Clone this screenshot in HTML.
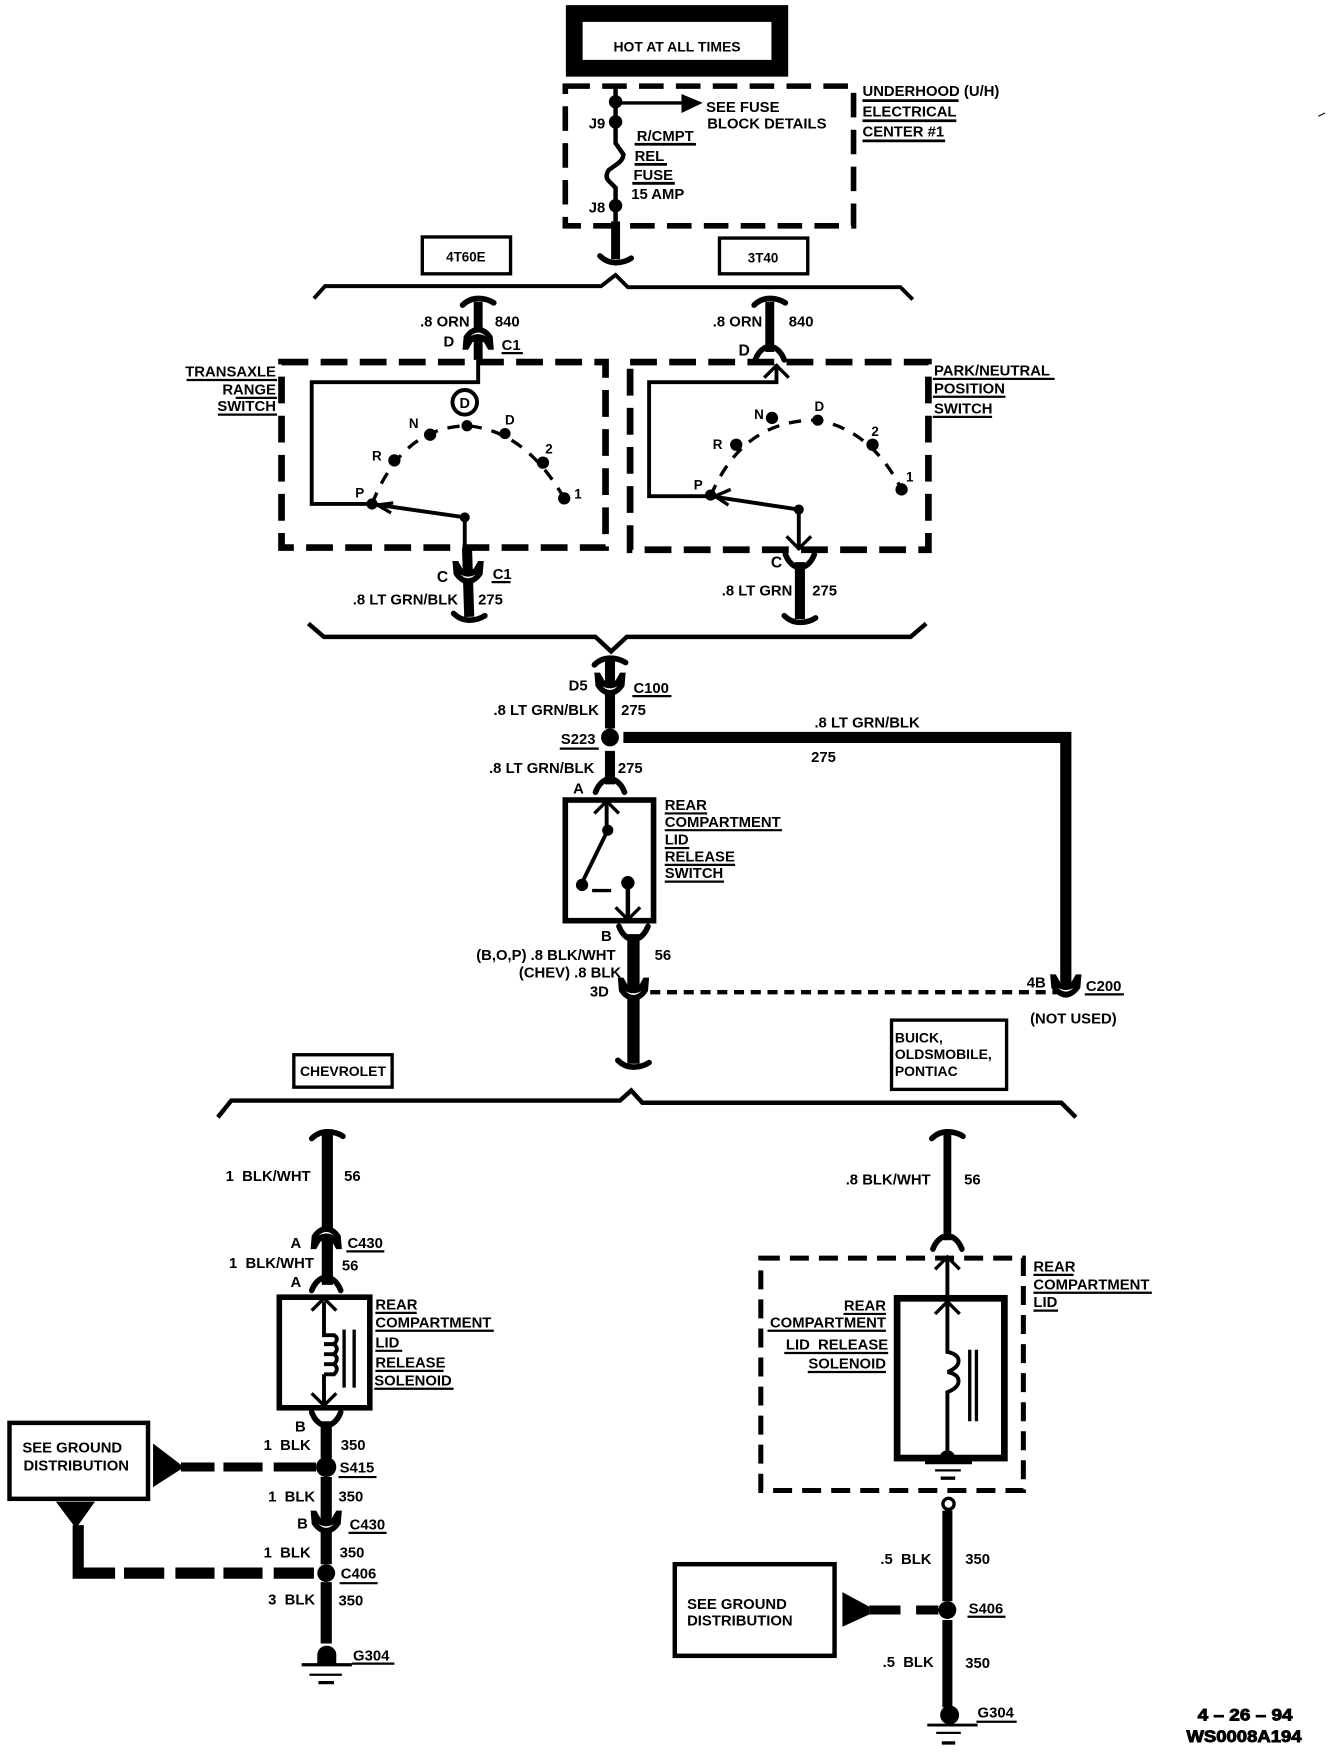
<!DOCTYPE html>
<html><head><meta charset="utf-8"><style>
html,body{margin:0;padding:0;background:#fff}
svg{display:block}
text{font-family:"Liberation Sans",sans-serif;font-weight:bold;font-size:13.3px;fill:#000}
.m{text-anchor:middle}.e{text-anchor:end}
</style></head><body>
<svg width="1344" height="1752" viewBox="0 0 1203 1568" xmlns="http://www.w3.org/2000/svg">
<defs>
<path id="ft" d="M-14,3 Q-8,-3 0,-3 Q8,-3 14,1" fill="none" stroke="#000" stroke-width="5" stroke-linecap="round"/>
<path id="fb" d="M-14,-3 Q-8,3 0,3 Q8,3 14,-1" fill="none" stroke="#000" stroke-width="5" stroke-linecap="round"/>
<path id="fy" d="M-13,6 Q-10,-2 -4,-5 H4 Q10,-2 13,6" fill="none" stroke="#000" stroke-width="5" stroke-linecap="round"/>
<path id="fu" d="M-13,-6 Q-10,2 -4,5 H4 Q10,2 13,-6" fill="none" stroke="#000" stroke-width="5" stroke-linecap="round"/>
<path id="ar" d="M-11,8 L0,-3 L11,8" fill="none" stroke="#000" stroke-width="3"/>
<path id="ad" d="M-11,-8 L0,3 L11,-8" fill="none" stroke="#000" stroke-width="3"/>
<g id="cn"><path d="M-14,-10 L-9,-10 L-5,-3 H5 L9,-10 L14,-10 L13,2 Q8,10 0,11 Q-8,10 -13,2 Z"/><path d="M-7,2 Q0,6 7,2 Q0,9 -7,2Z" fill="#fff"/></g>
<g id="cf"><path d="M-14,10 L-9,10 L-5,3 H5 L9,10 L14,10 L13,-2 Q8,-10 0,-11 Q-8,-10 -13,-2 Z"/><path d="M-7,-2 Q0,-6 7,-2 Q0,-9 -7,-2Z" fill="#fff"/></g>
</defs>
<rect width="1203" height="1568" fill="#fff"/>

<!-- hot box -->
<rect x="514" y="12" width="184" height="49" fill="#fff" stroke="#000" stroke-width="15"/>
<text class="m" x="606" y="46" style="font-size:12.5px">HOT AT ALL TIMES</text>

<!-- underhood -->
<rect x="506" y="77" width="258" height="125" fill="none" stroke="#000" stroke-width="5" stroke-dasharray="22 11"/>
<g stroke="#000" fill="none">
<path d="M551,78V128L558,138Q558,143 552,147L545,152Q541,158 545,162L551,168V198" stroke-width="4"/>
<path d="M551,92H612" stroke-width="3"/>
<path d="M551,198V232" stroke-width="8"/>
</g>
<path d="M610,84L629,92L610,101Z"/>
<circle cx="551" cy="91" r="6"/><circle cx="551" cy="109" r="6"/><circle cx="551" cy="184" r="6"/>
<use href="#fb" x="551" y="232"/>
<text x="632" y="100">SEE FUSE</text><text x="633" y="115">BLOCK DETAILS</text>
<text x="527" y="115">J9</text><text x="527" y="190">J8</text>
<text x="570" y="126">R/CMPT</text><text x="568" y="144">REL</text><text x="567" y="161">FUSE</text><text x="565" y="178">15 AMP</text>
<text x="772" y="86">UNDERHOOD (U/H)</text><text x="772" y="104">ELECTRICAL</text><text x="772" y="122">CENTER #1</text>
<path d="M568,129H623M568,147H597M566,164H604M772,90H858M772,108H856M772,126H846" stroke="#000" stroke-width="2.5"/>

<!-- option boxes -->
<rect x="378" y="212" width="79" height="33" fill="none" stroke="#000" stroke-width="3"/>
<text class="m" x="417" y="234" style="font-size:12px">4T60E</text>
<rect x="644" y="213" width="79" height="32" fill="none" stroke="#000" stroke-width="3"/>
<text class="m" x="683" y="235" style="font-size:12px">3T40</text>

<!-- brace 1 -->
<path d="M281,267L291,256H538L551,246L562,257H806L817,268" fill="none" stroke="#000" stroke-width="3.5"/>

<!-- left switch -->
<path d="M428,270V322" stroke="#000" stroke-width="8" fill="none"/>
<use href="#ft" x="428" y="270"/><use href="#cf" x="428" y="303"/>
<text x="376" y="292">.8 ORN</text><text x="443" y="292">840</text>
<text x="397" y="310">D</text><text x="449" y="313">C1</text>
<path d="M449,316H468" stroke="#000" stroke-width="2"/>
<rect x="252" y="324" width="290" height="166" fill="none" stroke="#000" stroke-width="6" stroke-dasharray="24 11"/>
<path d="M428,322V342H279V451H333L416,463V492" fill="none" stroke="#000" stroke-width="3.5"/>
<path d="M333,451Q360,382 418,381Q470,385 505,446" fill="none" stroke="#000" stroke-width="3" stroke-dasharray="11 9"/>
<g><circle cx="333" cy="451" r="5"/><circle cx="353" cy="412" r="5.5"/><circle cx="385" cy="389" r="5.5"/><circle cx="418" cy="381" r="5"/><circle cx="452" cy="388" r="5"/><circle cx="486" cy="414" r="5.5"/><circle cx="505" cy="446" r="5.5"/><circle cx="416" cy="463" r="4.5"/></g>
<path d="M352,450L338,452L350,459" fill="none" stroke="#000" stroke-width="3"/>
<circle cx="416" cy="360" r="11" fill="none" stroke="#000" stroke-width="3.5"/>
<text class="m" x="416" y="365" style="font-size:13px">D</text>
<text x="318" y="445" style="font-size:12px">P</text><text x="333" y="412" style="font-size:12px">R</text><text x="366" y="383" style="font-size:12px">N</text><text x="452" y="380" style="font-size:12px">D</text><text x="488" y="406" style="font-size:12px">2</text><text x="514" y="446" style="font-size:12px">1</text>
<text class="e" x="247" y="337">TRANSAXLE</text><text class="e" x="247" y="353">RANGE</text><text class="e" x="247" y="368">SWITCH</text>
<path d="M167,340H248M211,356H248M195,371H248" stroke="#000" stroke-width="2"/>
<path d="M418,490L420,552" fill="none" stroke="#000" stroke-width="9"/>
<use href="#cn" x="419" y="512"/><use href="#fb" x="420" y="552"/>
<text x="391" y="521" style="font-size:14px">C</text><text x="441" y="518">C1</text>
<path d="M440,521H457" stroke="#000" stroke-width="2"/>
<text class="e" x="410" y="541">.8 LT GRN/BLK</text><text x="428" y="541">275</text>

<!-- right switch -->
<path d="M689,270V315" stroke="#000" stroke-width="8"/>
<use href="#ft" x="689" y="270"/><use href="#fy" x="689" y="316"/>
<text x="638" y="292">.8 ORN</text><text x="706" y="292">840</text>
<text x="661" y="318" style="font-size:14px">D</text>
<rect x="564" y="324" width="267" height="168" fill="none" stroke="#000" stroke-width="6" stroke-dasharray="24 11"/>
<path d="M695,326V342H581V444H636L715,456V492" fill="none" stroke="#000" stroke-width="3.5"/>
<use href="#ar" x="695" y="330"/><use href="#ad" x="715" y="488"/>
<path d="M636,444Q665,375 732,376Q780,385 807,438" fill="none" stroke="#000" stroke-width="3" stroke-dasharray="11 9"/>
<circle cx="636" cy="443" r="5"/><circle cx="659" cy="398" r="5.5"/><circle cx="691" cy="374" r="5.5"/><circle cx="732" cy="376" r="5"/><circle cx="781" cy="398" r="5.5"/><circle cx="807" cy="438" r="5.5"/><circle cx="715" cy="456" r="4.5"/>
<path d="M654,438L640,444L652,452" fill="none" stroke="#000" stroke-width="3"/>
<text x="621" y="438" style="font-size:12px">P</text><text x="638" y="402" style="font-size:12px">R</text><text x="675" y="375" style="font-size:12px">N</text><text x="729" y="368" style="font-size:12px">D</text><text x="780" y="390" style="font-size:12px">2</text><text x="811" y="431" style="font-size:12px">1</text>
<text x="836" y="336">PARK/NEUTRAL</text><text x="836" y="352">POSITION</text><text x="836" y="370">SWITCH</text>
<path d="M835,339H944M835,355H900M835,373H888" stroke="#000" stroke-width="2"/>
<path d="M716,503V554" stroke="#000" stroke-width="9"/>
<use href="#fu" x="716" y="502"/><use href="#fb" x="716" y="554"/>
<text x="690" y="508" style="font-size:14px">C</text>
<text x="646" y="533">.8 LT GRN</text><text x="727" y="533">275</text>

<!-- brace 2 -->
<path d="M276,558L290,570H533L547,583L561,570H815L829,558" fill="none" stroke="#000" stroke-width="4"/>

<!-- center -->
<path d="M546,590V652M546,672V702" stroke="#000" stroke-width="9"/>
<use href="#ft" x="546" y="592"/><use href="#cn" x="546" y="612"/><use href="#fy" x="546" y="703"/>
<circle cx="546" cy="660" r="8"/>
<text x="509" y="618">D5</text><text x="567" y="620">C100</text><path d="M566,623H601" stroke="#000" stroke-width="2"/>
<text class="e" x="536" y="640">.8 LT GRN/BLK</text><text x="556" y="640">275</text>
<text x="502" y="666">S223</text><path d="M501,670H536" stroke="#000" stroke-width="2"/>
<text class="e" x="532" y="692">.8 LT GRN/BLK</text><text x="553" y="692">275</text>
<path d="M558,660H954V882" fill="none" stroke="#000" stroke-width="10"/>
<text x="729" y="651">.8 LT GRN/BLK</text><text x="726" y="682">275</text>
<text x="513" y="710">A</text>
<rect x="506" y="716" width="79" height="108" fill="#fff" stroke="#000" stroke-width="5"/>
<path d="M543,718V745L520,792" fill="none" stroke="#000" stroke-width="3.5"/>
<use href="#ar" x="543" y="720"/>
<circle cx="544" cy="743" r="5"/><circle cx="521" cy="792" r="5.5"/><circle cx="562" cy="790" r="6"/>
<path d="M530,797H547" stroke="#000" stroke-width="3"/>
<path d="M562,790V822" stroke="#000" stroke-width="4"/><use href="#ad" x="562" y="820"/>
<text x="595" y="725">REAR</text><text x="595" y="740">COMPARTMENT</text><text x="595" y="756">LID</text><text x="595" y="771">RELEASE</text><text x="595" y="786">SWITCH</text>
<path d="M595,728H633M595,743H700M595,759H617M595,774H658M595,789H648" stroke="#000" stroke-width="2"/>
<text x="538" y="842">B</text>
<text class="e" x="551" y="859">(B,O,P) .8 BLK/WHT</text><text x="586" y="859">56</text>
<text class="e" x="556" y="875">(CHEV) .8 BLK</text><text x="528" y="892">3D</text>
<path d="M567,836V952" stroke="#000" stroke-width="11"/>
<use href="#fu" x="567" y="835"/>
<use href="#cn" x="567" y="885"/><use href="#fb" x="567" y="952"/>
<path d="M582,888H946" fill="none" stroke="#000" stroke-width="4" stroke-dasharray="9 6"/>
<use href="#cn" x="954" y="882"/>
<text x="919" y="884">4B</text><text x="972" y="887">C200</text><path d="M971,890H1006" stroke="#000" stroke-width="2"/>
<text x="922" y="916">(NOT USED)</text>

<!-- option boxes 2 -->
<rect x="263" y="944" width="88" height="29" fill="none" stroke="#000" stroke-width="3"/>
<text class="m" x="307" y="963" style="font-size:12.5px">CHEVROLET</text>
<rect x="798" y="913" width="103" height="62" fill="none" stroke="#000" stroke-width="3"/>
<text x="801" y="933" style="font-size:12.5px">BUICK,</text><text x="801" y="948" style="font-size:12.5px">OLDSMOBILE,</text><text x="801" y="963" style="font-size:12.5px">PONTIAC</text>

<!-- brace 3 -->
<path d="M195,1000L207,985H555L565,976L575,987H950L963,1000" fill="none" stroke="#000" stroke-width="4"/>

<!-- Chevrolet branch -->
<path d="M293,1015V1150" stroke="#000" stroke-width="10"/>
<use href="#ft" x="293" y="1016"/><use href="#cf" x="292" y="1108"/><use href="#fy" x="292" y="1149"/>
<text x="202" y="1057">1&#160; BLK/WHT</text><text x="308" y="1057">56</text>
<text x="260" y="1117">A</text><text x="311" y="1117">C430</text><path d="M310,1120H344" stroke="#000" stroke-width="2"/>
<text x="205" y="1135">1&#160; BLK/WHT</text><text x="306" y="1137">56</text>
<text x="260" y="1152">A</text>
<rect x="250" y="1161" width="81" height="99" fill="#fff" stroke="#000" stroke-width="5"/>
<use href="#ar" x="290" y="1165"/>
<path d="M290,1165V1195H299Q304,1198 299,1203H290M290,1203H299Q304,1207 299,1212H290M290,1212H299Q304,1216 299,1221H290M290,1221H299Q304,1225 299,1230H290M290,1230V1258" fill="none" stroke="#000" stroke-width="3.5"/>
<use href="#ad" x="290" y="1255"/>
<path d="M308,1190V1242M317,1190V1242" stroke="#000" stroke-width="3"/>
<text x="336" y="1172">REAR</text><text x="336" y="1188">COMPARTMENT</text><text x="336" y="1206">LID</text><text x="336" y="1224">RELEASE</text><text x="335" y="1240">SOLENOID</text>
<path d="M336,1175H373M336,1191H442M336,1209H360M336,1227H397M335,1243H406" stroke="#000" stroke-width="2"/>
<text x="264" y="1281">B</text>
<use href="#fu" x="292" y="1270"/>
<path d="M292,1272V1305M292,1322V1400M292,1416V1471" stroke="#000" stroke-width="10"/>
<use href="#cn" x="292" y="1362"/>
<circle cx="292" cy="1313" r="9"/><circle cx="292" cy="1408" r="8"/>
<path d="M284,1490V1481A8.5,8 0 0 1 301,1481V1490Z"/>
<path d="M270,1490H315" stroke="#000" stroke-width="3"/><path d="M277,1499H306" stroke="#000" stroke-width="2"/><path d="M285,1506H299" stroke="#000" stroke-width="3"/>
<text x="236" y="1298">1&#160; BLK</text><text x="305" y="1298">350</text>
<text x="304" y="1318">S415</text><path d="M303,1322H337" stroke="#000" stroke-width="2"/>
<text x="240" y="1344">1&#160; BLK</text><text x="303" y="1344">350</text>
<text x="266" y="1368">B</text><text x="313" y="1369">C430</text><path d="M312,1372H346" stroke="#000" stroke-width="2"/>
<text x="236" y="1394">1&#160; BLK</text><text x="304" y="1394">350</text>
<text x="305" y="1413">C406</text><path d="M304,1417H338" stroke="#000" stroke-width="2"/>
<text x="240" y="1436">3&#160; BLK</text><text x="303" y="1437">350</text>
<text x="316" y="1486">G304</text><path d="M315,1489H353" stroke="#000" stroke-width="2"/>

<rect x="8.5" y="1273.5" width="124" height="68" fill="none" stroke="#000" stroke-width="4"/>
<text x="20" y="1300">SEE GROUND</text><text x="21" y="1316">DISTRIBUTION</text>
<path d="M137,1292L162,1311V1315L137,1331Z"/>
<path d="M162,1313H192M200,1313H235M245,1313H283" fill="none" stroke="#000" stroke-width="8"/>
<path d="M50,1344H85L68,1368Z"/>
<path d="M70,1365V1408H284" fill="none" stroke="#000" stroke-width="10" stroke-dasharray="76 8 36 10 35 8 35 10 36"/>

<!-- Buick branch -->
<path d="M848,1015V1110" stroke="#000" stroke-width="7"/>
<use href="#ft" x="848" y="1016"/><use href="#fy" x="848" y="1112"/>
<text class="e" x="833" y="1060">.8 BLK/WHT</text><text x="863" y="1060">56</text>
<rect x="681" y="1126" width="235" height="208" fill="none" stroke="#000" stroke-width="4.5" stroke-dasharray="17 9"/>
<text x="925" y="1138">REAR</text><text x="925" y="1154">COMPARTMENT</text><text x="925" y="1170">LID</text>
<path d="M925,1141H961M925,1157H1031M925,1173H947" stroke="#000" stroke-width="2"/>
<rect x="803" y="1162" width="96" height="143" fill="#fff" stroke="#000" stroke-width="6"/>
<path d="M848,1128V1210Q858,1212 858,1218T848,1228M848,1228Q858,1230 858,1236T848,1246V1300" fill="none" stroke="#000" stroke-width="3.5"/>
<use href="#ar" x="848" y="1128"/><use href="#ar" x="848" y="1168"/>
<path d="M868,1208V1272M874,1208V1272" stroke="#000" stroke-width="3"/>
<text class="e" x="793" y="1173">REAR</text><text class="e" x="793" y="1188">COMPARTMENT</text><text class="e" x="795" y="1208">LID&#160; RELEASE</text><text class="e" x="793" y="1225">SOLENOID</text>
<path d="M755,1176H793M687,1191H793M702,1211H795M723,1228H793" stroke="#000" stroke-width="2"/>
<path d="M841,1305A7,7 0 0 1 855,1305Z"/>
<path d="M828,1309H870" stroke="#000" stroke-width="3"/><path d="M837,1316H860" stroke="#000" stroke-width="2"/><path d="M842,1323H855" stroke="#000" stroke-width="3"/>
<circle cx="849" cy="1346" r="5" fill="#fff" stroke="#000" stroke-width="3"/>
<path d="M848,1352V1433M848,1450V1528" stroke="#000" stroke-width="9"/>
<circle cx="848" cy="1441" r="8"/>
<circle cx="850" cy="1535" r="8.5"/>
<path d="M830,1544H875" stroke="#000" stroke-width="2.5"/><path d="M838,1551H860" stroke="#000" stroke-width="2"/><path d="M843,1560H855" stroke="#000" stroke-width="3"/>
<text x="788" y="1400">.5&#160; BLK</text><text x="864" y="1400">350</text>
<text x="867" y="1444">S406</text><path d="M866,1447H900" stroke="#000" stroke-width="2"/>
<text x="790" y="1492">.5&#160; BLK</text><text x="864" y="1493">350</text>
<text x="875" y="1537">G304</text><path d="M874,1541H910" stroke="#000" stroke-width="2"/>
<rect x="604" y="1400" width="143" height="82" fill="none" stroke="#000" stroke-width="4"/>
<text x="615" y="1440">SEE GROUND</text><text x="615" y="1455">DISTRIBUTION</text>
<path d="M754,1425L778,1438V1445L754,1456Z"/>
<path d="M778,1441H806M820,1441H840" stroke="#000" stroke-width="8"/>

<!-- footer -->
<text x="1072" y="1540" textLength="85" lengthAdjust="spacingAndGlyphs" style="font-size:15px;stroke:#000;stroke-width:.8">4 – 26 – 94</text>
<text x="1062" y="1559" textLength="103" lengthAdjust="spacingAndGlyphs" style="font-size:15px;stroke:#000;stroke-width:.8">WS0008A194</text>
<path d="M1180,104L1186,101" stroke="#000" stroke-width="1"/>
</svg>
</body></html>
